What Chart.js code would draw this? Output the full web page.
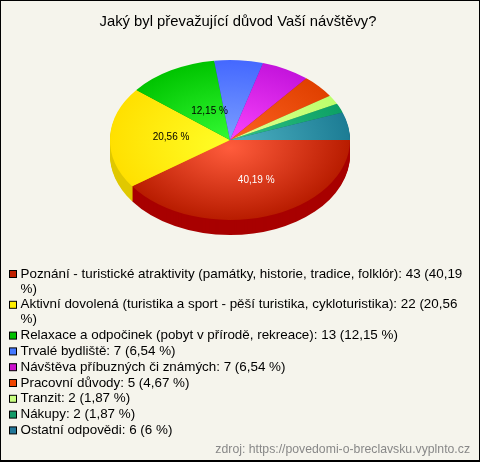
<!DOCTYPE html>
<html><head><meta charset="utf-8">
<script src="https://cdn.jsdelivr.net/npm/chart.js@4/dist/chart.umd.min.js"></script>
<style>html,body{margin:0;padding:0;background:#f5f4ec}
#w{position:relative;width:480px;height:462px}
canvas{display:block}
#w:after{content:"";position:absolute;inset:0;border:1px solid #000;border-bottom-width:2px;pointer-events:none}</style>
</head><body><div id="w"><canvas id="c" width="480" height="462"></canvas></div>
<script>
const titleText = "Jaký byl převažující důvod Vaší návštěvy?";
const sourceText = "zdroj: https://povedomi-o-breclavsku.vyplnto.cz";
const categories = ["Poznání - turistické atraktivity (památky, historie, tradice, folklór)","Aktivní dovolená (turistika a sport - pěší turistika, cykloturistika)","Relaxace a odpočinek (pobyt v přírodě, rekreace)","Trvalé bydliště","Návštěva příbuzných či známých","Pracovní důvody","Tranzit","Nákupy","Ostatní odpovědi"];
const values = [43,22,13,7,7,5,2,2,6];
const percents = ["40,19","20,56","12,15","6,54","6,54","4,67","1,87","1,87","6"];
const sliceLabels = ["40,19 %","20,56 %","12,15 %"];
const labelColors = ["#fff","#000","#000"];
const labelShiftX = [8,1,9];
const labelShiftY = [2,-2,6];
const lightColors = ["#ff5c3c","#ffff28","#38ff38","#80a4ff","#ff48ff","#ff6424","#e4ff94","#34c488","#50b4c4"];
const darkColors = ["#b81c00","#ffe000","#00c400","#4468ff","#c414dc","#e04000","#bcff6c","#0ca064","#1c7c94"];
const sideColors = ["#a80000","#e0c800","#009000","#2840c0","#9000a0","#a83000","#90c050","#087048","#145c70"];
const swatchColors = ["#c02000","#ffee00","#00c000","#4478ff","#cc11cc","#ee4400","#c8ff80","#119966","#227799"];
const PIE = {x:230,y:140,rx:120,ry:80,depth:15};
const LEGEND = {swatchX:9.5,textX:20.5,top:274,line:15,gap:0.8,size:13.4,maxW:450};

function pieTransform(ctx, arc){
  const R = arc.outerRadius;
  ctx.translate(PIE.x, PIE.y);
  ctx.scale(PIE.rx/R, PIE.ry/R);
  ctx.translate(-arc.x, -arc.y);
}
function wrap(ctx,text,maxW){
  const words=text.split(' '), lines=[]; let cur='';
  words.forEach(w=>{const t=cur?cur+' '+w:w;
    if(ctx.measureText(t).width>maxW && cur){lines.push(cur);cur=w;} else cur=t;});
  lines.push(cur); return lines;
}
const piePlugin = {
  id:'pie3d',
  beforeDatasetsDraw(chart){
    const ctx = chart.ctx, arcs = chart.getDatasetMeta(0).data;
    ctx.save();
    for(let d=PIE.depth; d>=1; d--){
      arcs.forEach((arc,i)=>{
        ctx.save();
        ctx.translate(0,d);
        pieTransform(ctx,arc);
        ctx.beginPath();
        ctx.moveTo(arc.x,arc.y);
        ctx.arc(arc.x,arc.y,arc.outerRadius,arc.startAngle,arc.endAngle);
        ctx.closePath();
        ctx.fillStyle = sideColors[i];
        ctx.fill();
        ctx.restore();
      });
    }
    pieTransform(ctx,arcs[0]);
  },
  afterDatasetsDraw(chart){
    const ctx = chart.ctx, arcs = chart.getDatasetMeta(0).data;
    ctx.restore();
    ctx.save();
    ctx.font = '10px "Liberation Sans"';
    ctx.textAlign='center'; ctx.textBaseline='middle';
    sliceLabels.forEach((t,i)=>{
      const a = arcs[i], m = (a.startAngle+a.endAngle)/2;
      ctx.fillStyle = labelColors[i];
      ctx.fillText(t, PIE.x+0.5*PIE.rx*Math.cos(m)+labelShiftX[i], PIE.y+0.5*PIE.ry*Math.sin(m)+labelShiftY[i]);
    });
    ctx.restore();
    // legend list with wrapped lines
    ctx.save();
    ctx.font = LEGEND.size+'px "Liberation Sans"';
    ctx.textAlign='left'; ctx.textBaseline='middle';
    let y = LEGEND.top;
    categories.forEach((c,i)=>{
      ctx.fillStyle=swatchColors[i];
      ctx.fillRect(LEGEND.swatchX,y-3.5,7,7);
      ctx.strokeStyle='#000';ctx.lineWidth=1;
      ctx.strokeRect(LEGEND.swatchX,y-3.5,7,7);
      ctx.fillStyle='#000';
      const lines = wrap(ctx,c+': '+values[i]+' ('+percents[i]+' %)',LEGEND.maxW);
      lines.forEach((l,k)=>{ctx.fillText(l,LEGEND.textX,y+k*LEGEND.line);});
      y += lines.length*LEGEND.line+LEGEND.gap;
    });
    ctx.restore();
  }
};
new Chart(document.getElementById('c'),{
  type:'pie',
  plugins:[piePlugin],
  data:{labels:categories,datasets:[{data:values,borderWidth:0,clip:false,
    backgroundColor(c){
      const a=c.chart.chartArea; if(!a) return lightColors[c.dataIndex];
      const x=(a.left+a.right)/2,y=(a.top+a.bottom)/2,r=Math.min(a.width,a.height)/2;
      const g=c.chart.ctx.createRadialGradient(x,y+r*0.1,0,x,y,r);
      g.addColorStop(0,lightColors[c.dataIndex]);g.addColorStop(1,darkColors[c.dataIndex]);
      return g;
    }}]},
  options:{
    responsive:false,animation:false,rotation:90,
    events:[],
    layout:{padding:{left:6,right:10,top:0,bottom:2}},
    plugins:{
      tooltip:{enabled:false},
      legend:{display:false},
      title:{display:true,text:titleText,color:'#000',font:{family:'"Liberation Sans"',size:14.8,weight:'normal',lineHeight:1.2},padding:{top:13,bottom:10}},
      subtitle:{display:true,position:'bottom',align:'end',text:sourceText,color:'#888',font:{family:'"Liberation Sans"',size:12.25,weight:'normal',lineHeight:1.2},padding:{top:0,bottom:3}}
    }
  }
});
</script></body></html>
